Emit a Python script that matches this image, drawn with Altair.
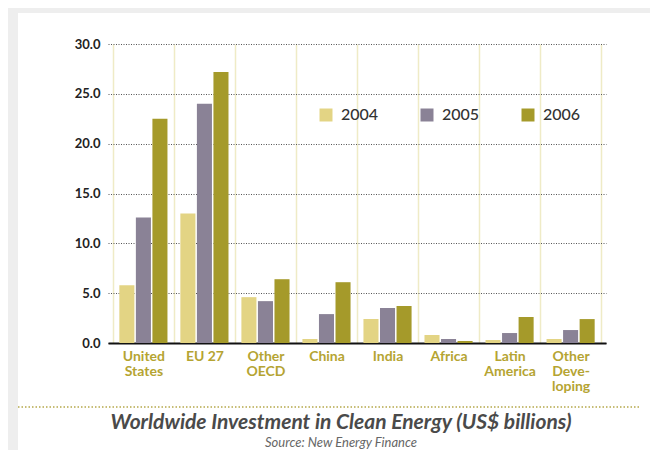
import altair as alt
import pandas as pd

regions = ["United States", "EU 27", "Other OECD", "China", "India",
           "Africa", "Latin America", "Other Developing"]
region_lines = [["United", "States"], ["EU 27"], ["Other", "OECD"], ["China"],
                ["India"], ["Africa"], ["Latin", "America"], ["Other", "Deve-", "loping"]]
years = ["2004", "2005", "2006"]
v2004 = [5.8, 13.0, 4.6, 0.4, 2.4, 0.8, 0.3, 0.4]
v2005 = [12.6, 24.0, 4.2, 2.9, 3.5, 0.4, 1.0, 1.3]
v2006 = [22.5, 27.2, 6.4, 6.1, 3.7, 0.2, 2.6, 2.4]
colors = ["#e3d484", "#8a8296", "#a59a2a"]
y_ticks = [0, 5, 10, 15, 20, 25, 30]
title_text = "Worldwide Investment in Clean Energy (US$ billions)"
source_text = "Source: New Energy Finance"

rows = []
for yr, vals in zip(years, [v2004, v2005, v2006]):
    for r, v in zip(regions, vals):
        rows.append({"region": r, "year": yr, "value": v})
df = pd.DataFrame(rows)

# multi-line label expression
expr = "''"
for r, lines in reversed(list(zip(regions, region_lines))):
    arr = "[" + ",".join("'%s'" % l for l in lines) + "]"
    expr = "datum.value == '%s' ? %s : (%s)" % (r, arr, expr)

FONT = "Lato"

bars = alt.Chart(df).mark_bar().encode(
    x=alt.X("region:N", sort=regions, title=None,
            scale=alt.Scale(paddingInner=0, paddingOuter=0.08),
            axis=alt.Axis(labelExpr=expr, labelAngle=0, labelFont=FONT,
                          labelFontSize=14, labelFontWeight="bold",
                          labelColor="#b5a432", labelLineHeight=15,
                          labelPadding=6, ticks=False, grid=True,
                          tickBand="extent", gridColor="#efebc6",
                          gridWidth=1.5, domainColor="#111111",
                          domainWidth=2)),
    xOffset=alt.XOffset("year:N", sort=years,
                        scale=alt.Scale(paddingInner=0.09, paddingOuter=0.39)),
    y=alt.Y("value:Q", title=None,
            scale=alt.Scale(domain=[0, 30], nice=False),
            axis=alt.Axis(values=y_ticks, format=".1f", labelFont=FONT,
                          labelFontSize=13, labelFontWeight="bold",
                          labelColor="#222222", ticks=False, domain=False,
                          labelPadding=8, grid=True, gridColor="#555555",
                          gridDash=[1, 1.5], gridWidth=1)),
    color=alt.Color("year:N", sort=years,
                    scale=alt.Scale(domain=years, range=colors),
                    legend=alt.Legend(title=None, orient="none", legendX=210,
                                      legendY=63, direction="horizontal",
                                      symbolType="square", symbolSize=169,
                                      symbolStrokeWidth=0, symbolOpacity=1,
                                      labelFont=FONT, labelFontSize=16,
                                      labelFontWeight=500,
                                      labelColor="#333333", labelOffset=7,
                                      columnPadding=40)),
)

one = pd.DataFrame({"title": [title_text], "source": [source_text]})

separator = alt.Chart(one).mark_rule(
    stroke="#b5a84a", strokeDash=[1.5, 2], strokeWidth=1.5
).encode(x=alt.value(-90), x2=alt.value(532), y=alt.value(363))

title = alt.Chart(one).mark_text(
    font=FONT, fontSize=21, fontStyle="italic", fontWeight="bold",
    color="#4a4a4a", align="center", baseline="middle"
).encode(text="title:N", x=alt.value(233), y=alt.value(379))

source = alt.Chart(one).mark_text(
    font=FONT, fontSize=13, fontStyle="italic",
    color="#666666", align="center", baseline="middle"
).encode(text="source:N", x=alt.value(233), y=alt.value(399))

frame = alt.Chart(one).mark_rect(
    fillOpacity=0, stroke="#eeeeee", strokeWidth=20
).encode(x=alt.value(-100), x2=alt.value(560),
         y=alt.value(-41), y2=alt.value(424))

chart = alt.layer(bars, separator, title, source, frame).properties(
    width=498, height=299,
    autosize=alt.AutoSizeParams(type="none"),
    padding={"left": 100, "top": 36, "right": 44, "bottom": 107},
    background="white",
).configure_view(stroke=None)

chart.save("out.html", embed_options={"renderer": "svg", "actions": False})
